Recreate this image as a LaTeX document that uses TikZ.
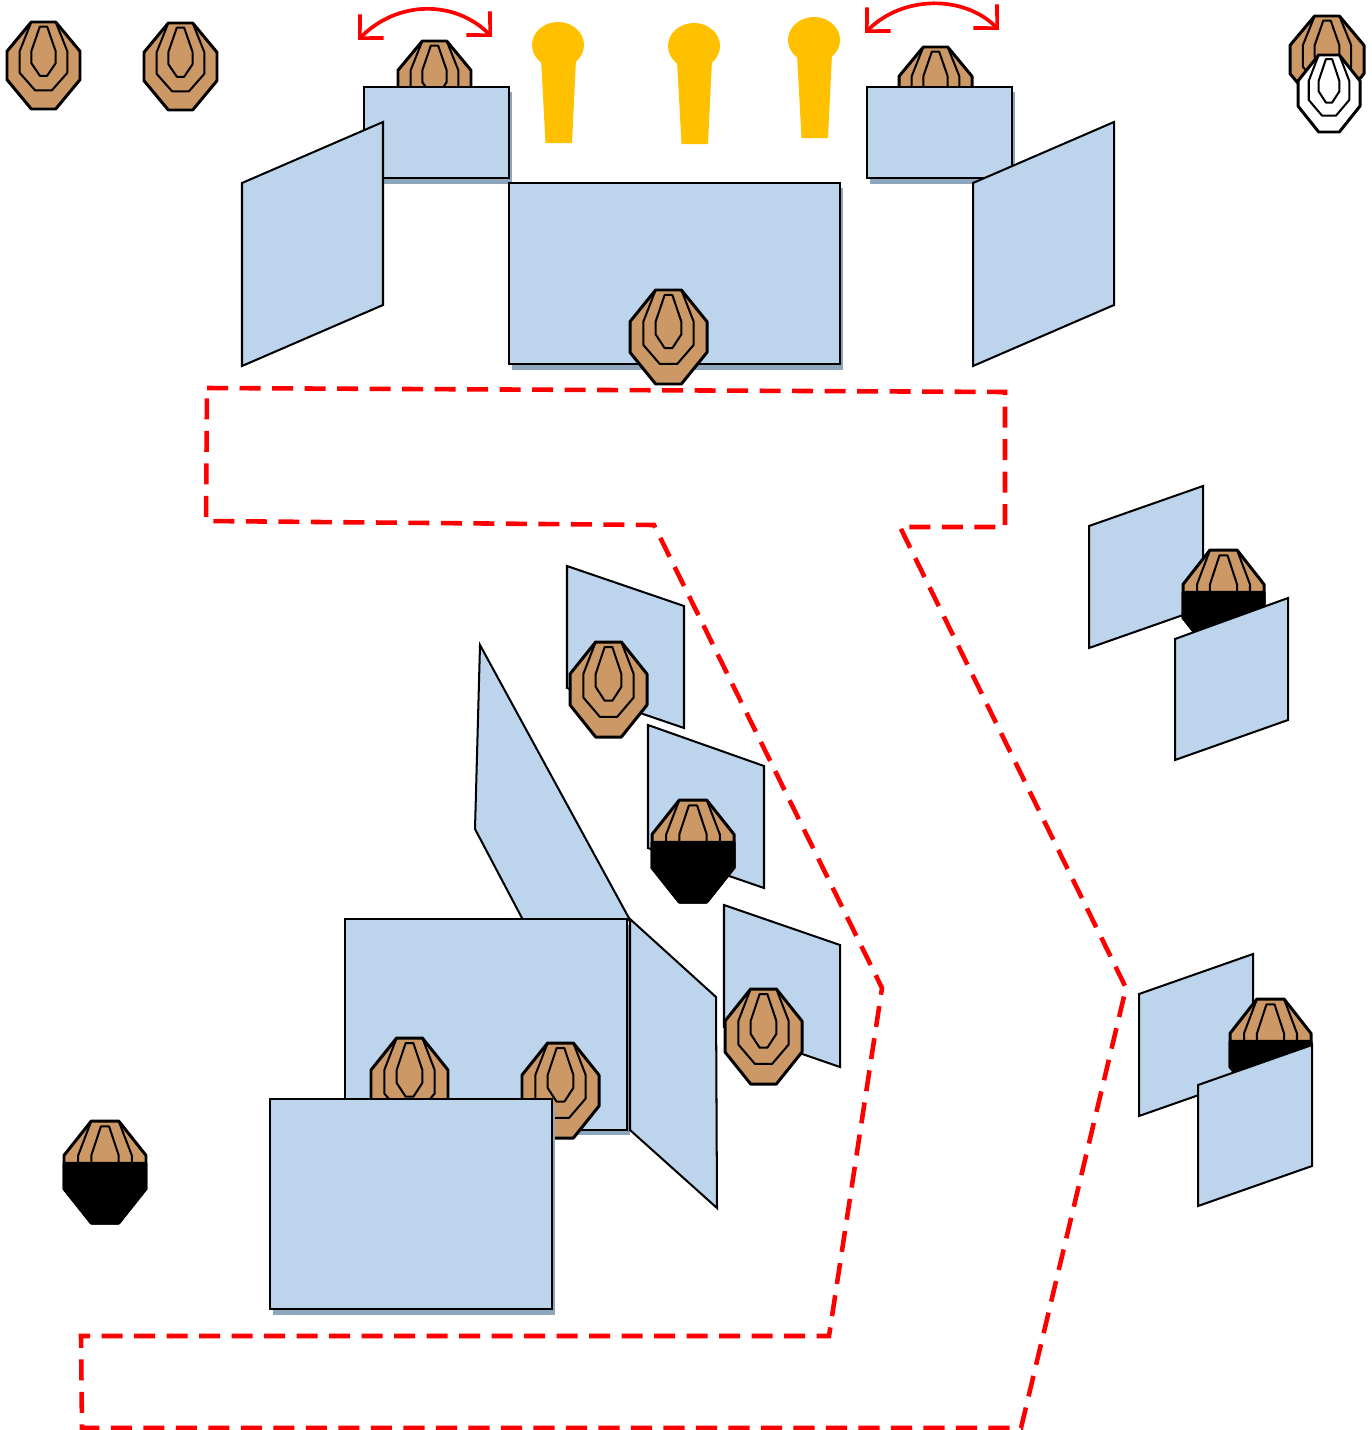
\documentclass[tikz,border=0pt]{standalone}
\usepackage{xcolor}
\usetikzlibrary{arrows.meta}
\definecolor{panel}{HTML}{BDD4ED}
\definecolor{panelshade}{HTML}{8EA5BE}
\definecolor{tan}{HTML}{CC9966}
\definecolor{route}{HTML}{FF0000}
\definecolor{pin}{HTML}{FFC000}
\tikzset{
  wall/.style={draw=black, fill=panel, line width=1.15pt, line join=miter},
  shade/.style={fill=panelshade, draw=none},
  plate/.style={draw=black, line width=1.7pt, line join=round},
  ring/.style={draw=black, line width=1.15pt, line join=round},
  lane/.style={draw=route, line width=2.6pt, dash pattern=on 12pt off 6.5pt},
  swing/.style={draw=route, line width=2.1pt, {Straight Barb[length=9.6pt,width=19pt,line width=2.1pt]}-{Straight Barb[length=9.6pt,width=19pt,line width=2.1pt]}},
  pinfill/.style={fill=pin, draw=none}
}
% left, top, width, height, fill
\newcommand{\target}[5]{
  \begin{scope}[shift={(#1+1,#2+1)}, x=0.02cm*(#3-2), y=-0.02cm*(#4-2)]
    \draw[plate, fill=#5] (.333,0)--(.667,0)--(1,.337)--(1,.663)--(.667,1)--(.333,1)--(0,.663)--(0,.337)--cycle;
    \draw[ring] (.333,0)--(.173,.337)--(.173,.584)--(.387,.787)--(.613,.787)--(.827,.584)--(.827,.337)--(.667,0);
    \draw[ring] (.45,.053)--(.55,.053)--(.667,.337)--(.667,.472)--(.55,.618)--(.45,.618)--(.333,.472)--(.333,.337)--cycle;
  \end{scope}
}
% left, top, width, height
\newcommand{\darktarget}[4]{
  \target{#1}{#2}{#3}{#4}{tan}
  \begin{scope}[shift={(#1+1,#2+1)}, x=0.02cm*(#3-2), y=-0.02cm*(#4-2)]
    \draw[plate, fill=black] (0,.415)--(1,.415)--(1,.663)--(.667,1)--(.333,1)--(0,.663)--cycle;
  \end{scope}
}
\newcommand{\pinmark}[2]{
  \fill[pinfill] (#1,#2) ellipse (26 and 23);
  \fill[pinfill] (#1-17,#2+14)--(#1+18,#2+14)--(#1+14,#2+98)--(#1-12.5,#2+98)--cycle;
}
\begin{document}
\begin{tikzpicture}[x=0.02cm, y=-0.02cm]
  \useasboundingbox (0,0) rectangle (1372,1430);

  % top row
  \target{6}{21}{75}{89}{tan}
  \target{143}{22}{75}{89}{tan}
  \target{397}{40}{75}{89}{tan}
  \target{898}{46}{75}{89}{tan}
  \target{1289}{15}{76}{89}{tan}
  \target{1297}{54}{64}{79}{white}

  \fill[shade] (367,92) rectangle (512,184);
  \draw[wall] (364,87) rectangle (509,178);
  \fill[shade] (870,92) rectangle (1015,184);
  \draw[wall] (867,87) rectangle (1012,178);
  \fill[shade] (512,188) rectangle (843,370);
  \draw[wall] (509,183) rectangle (840,364);
  \draw[wall] (242,183)--(383,122)--(383,305)--(242,366)--cycle;
  \draw[wall] (973,183)--(1114,122)--(1114,305)--(973,366)--cycle;
  \target{629}{289}{79}{96}{tan}

  \pinmark{558}{45}
  \pinmark{694}{46}
  \pinmark{814}{40}

  \coordinate (swingAl) at (358,40);
  \coordinate (swingAr) at (492,37);
  \coordinate (swingBl) at (865,33);
  \coordinate (swingBr) at (999,30);
  \draw[swing] (swingAl) .. controls (398,0) and (455,0) .. (swingAr);
  \draw[swing] (swingBl) .. controls (903,-5) and (964,-5) .. (swingBr);

  % right side
  \draw[wall] (1089,526)--(1203,486)--(1203,608)--(1089,648)--cycle;
  \darktarget{1182}{549}{83}{104}
  \draw[wall] (1175,639)--(1288,598)--(1288,720)--(1175,760)--cycle;

  \draw[wall] (1139,994)--(1253,954)--(1253,1076)--(1139,1116)--cycle;
  \darktarget{1229}{998}{83}{104}
  \draw[wall] (1198,1085)--(1312,1045)--(1312,1166)--(1198,1206)--cycle;

  % centre
  \draw[wall] (567,566)--(684,606)--(684,728)--(567,688)--cycle;
  \target{569}{641}{79}{97}{tan}
  \draw[wall] (648,725)--(764,766)--(764,888)--(648,848)--cycle;
  \darktarget{651}{799}{84}{104}
  \draw[wall] (724,905)--(840,945)--(840,1067)--(724,1027)--cycle;
  \target{724}{988}{79}{97}{tan}

  \draw[wall] (480,645)--(630,920)--(523,920)--(475,829)--cycle;
  \fill[shade] (348,925) rectangle (630,1135);
  \draw[wall] (345,919) rectangle (627,1130);
  \draw[wall] (630,919)--(716,997)--(717,1208)--(630,1130)--cycle;
  \target{370}{1037}{79}{97}{tan}
  \target{521}{1042}{79}{97}{tan}
  \fill[shade] (273,1104) rectangle (555,1315);
  \draw[wall] (270,1099) rectangle (552,1309);
  \darktarget{63}{1120}{84}{104}

  % route
  \draw[lane] (207,388)--(1005,392)--(1005,527)--(900,527)--(1126,988)--(1021,1428)--(82,1428)--(81,1336)--(829,1336)--(882,988)--(654,525)--(206,521)--cycle;
\end{tikzpicture}
\end{document}
